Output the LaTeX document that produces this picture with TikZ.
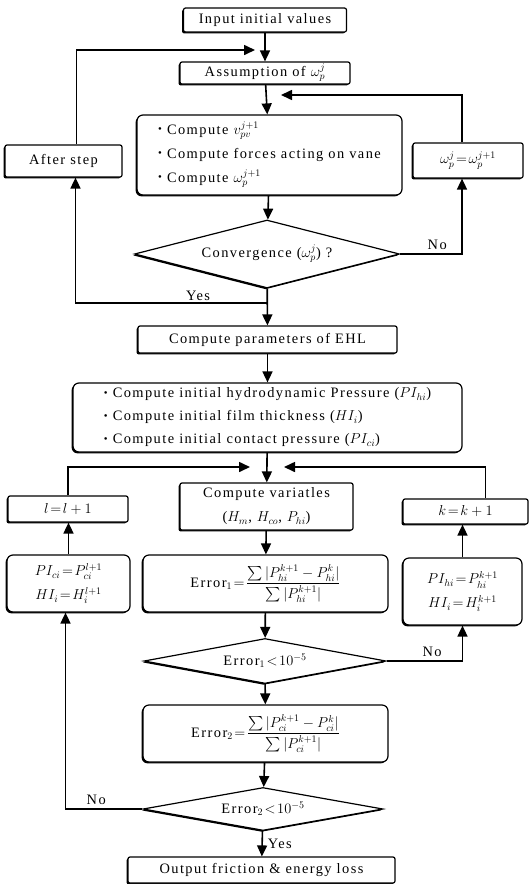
\documentclass[tikz,border=0pt]{standalone}
\usepackage{amsmath}
\usepackage{amssymb}
\usepackage{graphicx}
\usepackage{fontspec}
\setmainfont[LetterSpace=10]{Liberation Serif}
\usetikzlibrary{shapes.geometric,arrows.meta,calc,shadows}
\newcommand{\bul}{\raisebox{.25ex}{\scalebox{.75}{\textbullet}}\ }

\begin{document}
\begin{tikzpicture}[x=1pt, y=1pt, font=\fontsize{14.4}{23}\selectfont, line width=1.6pt, >={Triangle[length=11pt,width=10pt]}]
	\path [use as bounding box] (0,0) rectangle (531,-884);
	\tikzstyle{box} = [draw, rectangle, rounded corners=2pt, fill=white, inner sep=2pt, line width=1.2pt, drop shadow={shadow xshift=-1.4pt, shadow yshift=-1.4pt, opacity=1, fill=black}]
	\tikzstyle{rbox} = [box, rounded corners=6pt]
	\tikzstyle{test} = [box, diamond, inner sep=0pt, rounded corners=0pt, aspect=5]
	\tikzstyle{lbl} = [inner sep=2pt]
	% main column
	\node[box, minimum width=163pt, minimum height=24pt] (inp) at (265,-20) {Input initial values};
	\node[box, minimum width=170pt, minimum height=22pt] (asm) at (265,-73) {Assumption of $\omega_p^j$};
	\node[rbox, minimum width=265pt, minimum height=80pt, align=left, font=\fontsize{14.4}{24}\selectfont] (cmp) at (269.5,-155) {\bul Compute $v_{pv}^{j+1}$\\ \bul Compute forces acting on vane\\ \bul Compute $\omega_p^{j+1}$};
	\node[box, minimum width=117pt, minimum height=32pt] (after) at (63.5,-161) {After step};
	\node[box, minimum width=110pt, minimum height=35pt] (omg) at (468,-160.5) {$\omega_p^j\!=\!\omega_p^{j+1}$};
	\node[test, aspect=3.9, minimum width=265pt, minimum height=68pt] (conv) at (267,-254) {Convergence ($\omega_p^j$) ?};
	\node[box, minimum width=259pt, minimum height=27pt] (ehl) at (267.5,-339.5) {Compute parameters of EHL};
	\node[rbox, minimum width=389pt, minimum height=69pt, align=left] (init) at (267.5,-417.5) {\bul Compute initial hydrodynamic Pressure ($PI_{hi}$)\\ \bul Compute initial film thickness ($HI_i$)\\ \bul Compute initial contact pressure ($PI_{ci}$)};
	\node[box, minimum width=173pt, minimum height=47pt, align=center, font=\fontsize{14.4}{24}\selectfont] (var) at (266.5,-506.5) {Compute variatles\\ ($H_m$, $H_{co}$, $P_{hi}$)};
	\node[box, minimum width=120pt, minimum height=26pt] (linc) at (68,-509) {$l\!=\!l+1$};
	\node[box, minimum width=125pt, minimum height=25pt] (kinc) at (465.5,-511.5) {$k\!=\!k+1$};
	\node[rbox, minimum width=245pt, minimum height=57pt] (err1) at (265.5,-583.5) {Error$_1\!=\!\dfrac{\sum|P_{hi}^{k+1}-P_{hi}^k|}{\sum|P_{hi}^{k+1}|}$};
	\node[rbox, minimum width=123pt, minimum height=57pt, align=center, font=\fontsize{14.4}{24}\selectfont] (pci) at (68.5,-583.5) {$PI_{ci}\!=\!P_{ci}^{l+1}$\\ $HI_i\!=\!H_i^{l+1}$};
	\node[rbox, minimum width=119pt, minimum height=67pt, align=center, font=\fontsize{14.4}{24}\selectfont] (phi) at (462.5,-591.5) {$PI_{hi}\!=\!P_{hi}^{k+1}$\\ $HI_i\!=\!H_i^{k+1}$};
	\node[test, aspect=5.4, minimum width=242pt, minimum height=45pt] (d1) at (265,-661) {Error$_1\!<\!10^{-5}$};
	\node[rbox, minimum width=245pt, minimum height=57pt] (err2) at (265.5,-733.5) {Error$_2\!=\!\dfrac{\sum|P_{ci}^{k+1}-P_{ci}^k|}{\sum|P_{ci}^{k+1}|}$};
	\node[test, aspect=5.6, minimum width=240pt, minimum height=43pt] (d2) at (263,-809) {Error$_2\!<\!10^{-5}$};
	\node[box, minimum width=267pt, minimum height=26pt] (out) at (261.5,-870) {Output friction \& energy loss};
	% joints of the loops
	\coordinate (in1) at (255,-50);
	\coordinate (in2) at (281,-95);
	\coordinate (jn1) at (267,-303);
	\coordinate (in3) at (250,-467);
	\coordinate (in4) at (284,-467);
	% straight flow
	\draw[->] (inp) -- (asm);
	\draw[->] (asm) -- (cmp);
	\draw[->] (cmp) -- (conv);
	\draw[->] (conv) -- (ehl);
	\draw[->] (ehl) -- (init);
	\draw[->] (init) -- (var);
	\draw[->] (var) -- (err1);
	\draw[->] (err1) -- (d1);
	\draw[->] (d1) -- (err2);
	\draw[->] (err2) -- (d2);
	\draw[->] (d2) -- node[lbl, right, xshift=3pt] {Yes} (out);
	% first loop
	\draw[->] (jn1) -| node[lbl, pos=.18, above] {Yes} ($(after.south)+(12,0)$);
	\draw[->] ($(after.north)+(13,0)$) |- (in1);
	\draw[->] (conv.east) -| node[lbl, pos=.3, above, yshift=2pt] {No} ($(omg.south)+(-6,0)$);
	\draw[->] ($(omg.north)+(-6,0)$) |- (in2);
	% second loop
	\draw[->] (linc.north) |- (in3);
	\draw[->] ($(kinc.north)+(20,0)$) |- (in4);
	\draw[->] (pci.north) -- (linc.south -| pci.north);
	\draw[->] (phi.north) -- (kinc.south -| phi.north);
	\draw[->] (d1.east) -| node[lbl, pos=.3, above, yshift=2pt] {No} (phi.south);
	\draw[->] (d2.west) -| node[lbl, pos=.3, above, yshift=2pt] {No} ($(pci.south)+(-3,0)$);
\end{tikzpicture}
\end{document}
